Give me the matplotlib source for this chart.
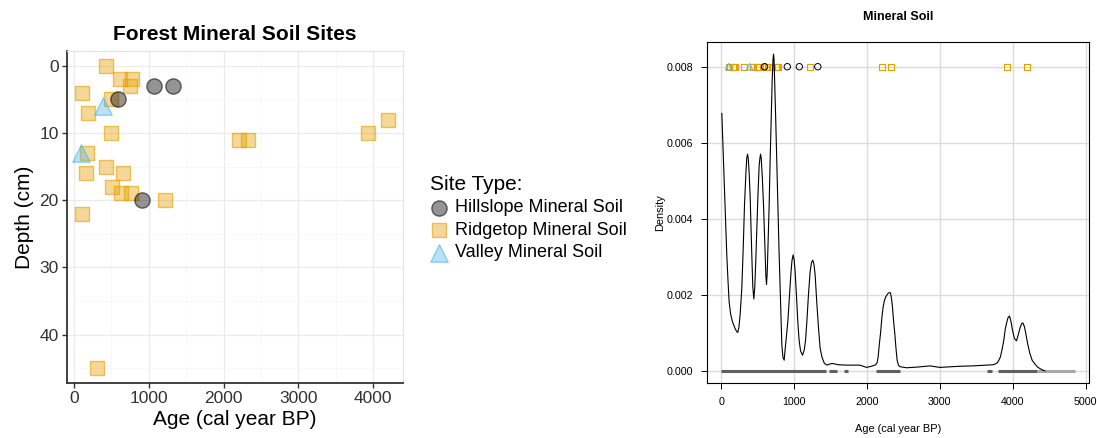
import numpy as np
import matplotlib.pyplot as plt
from matplotlib.ticker import MultipleLocator

plt.rcParams['font.family'] = ['Liberation Sans', 'DejaVu Sans']

# Sample ages (cal year BP) and depths (cm) per site type
hillslope_age = [1073, 1326, 596, 908]
hillslope_depth = [3, 3, 5, 20]
ridgetop_age = [436, 614, 783, 748, 111, 503, 187, 494, 2207, 2328, 3925,
                4197, 178, 436, 169, 659, 516, 636, 761, 1219, 116, 312]
ridgetop_depth = [0, 2, 2, 3, 4, 5, 7, 10, 11, 11, 10,
                  8, 13, 15, 16, 16, 18, 19, 19, 20, 22, 45]
valley_age = [392, 102]
valley_depth = [6, 13]

# Summed density curve
density_age = [10, 28, 46, 62, 78, 94, 110, 132, 156, 190, 215, 229, 245,
               262, 284, 303, 321, 340, 352, 362, 372, 385, 398, 410, 421,
               435, 449, 462, 474, 486, 505, 522, 533, 541, 550, 565, 582,
               603, 614, 623, 633, 645, 659, 672, 686, 700, 712, 719, 726,
               738, 750, 764, 778, 794, 810, 822, 833, 848, 865, 880, 898,
               915, 935, 956, 972, 988, 1002, 1015, 1033, 1052, 1070, 1090,
               1117, 1140, 1158, 1176, 1198, 1221, 1240, 1258, 1274, 1290,
               1312, 1336, 1358, 1382, 1415, 1450, 1509, 1536, 1560, 1605,
               1719, 1902, 1948, 1993, 2062, 2121, 2140, 2154, 2170, 2186,
               2205, 2222, 2240, 2259, 2291, 2310, 2323, 2337, 2350, 2366,
               2382, 2398, 2414, 2432, 2451, 2542, 2700, 2862, 2999, 3274,
               3457, 3731, 3760, 3786, 3810, 3831, 3855, 3877, 3897, 3914,
               3935, 3955, 3975, 3996, 4022, 4051, 4075, 4097, 4120, 4138,
               4158, 4179, 4205, 4234, 4265, 4303, 4340, 4371, 4410, 4440]
density_value = [0.00677, 0.00580, 0.00480, 0.00390, 0.00305, 0.00240,
                 0.00182, 0.00148, 0.00129, 0.00112, 0.00103, 0.00101,
                 0.00115, 0.00150, 0.00217, 0.00320, 0.00436, 0.00520,
                 0.00560, 0.00570, 0.00560, 0.00520, 0.00462, 0.00380,
                 0.00305, 0.00220, 0.00189, 0.00220, 0.00280, 0.00348,
                 0.00460, 0.00540, 0.00560, 0.00570, 0.00560, 0.00510,
                 0.00436, 0.00310, 0.00250, 0.00227, 0.00260, 0.00340,
                 0.00436, 0.00550, 0.00655, 0.00760, 0.00820, 0.00833,
                 0.00820, 0.00740, 0.00655, 0.00550, 0.00436, 0.00320,
                 0.00217, 0.00130, 0.00068, 0.00036, 0.00028, 0.00060,
                 0.00095, 0.00129, 0.00190, 0.00252, 0.00290, 0.00305,
                 0.00292, 0.00261, 0.00200, 0.00129, 0.00080, 0.00052,
                 0.00041, 0.00055, 0.00080, 0.00129, 0.00200, 0.00261,
                 0.00285, 0.00291, 0.00280, 0.00252, 0.00180, 0.00112,
                 0.00060, 0.00037, 0.00020, 0.00015, 0.00019, 0.00019,
                 0.00018, 0.00016, 0.00015, 0.00015, 0.00012, 0.00009,
                 0.00012, 0.00016, 0.00022, 0.00037, 0.00070, 0.00098,
                 0.00140, 0.00168, 0.00185, 0.00195, 0.00204, 0.00206,
                 0.00205, 0.00190, 0.00168, 0.00130, 0.00098, 0.00060,
                 0.00028, 0.00015, 0.00011, 0.00008, 0.00010, 0.00013,
                 0.00009, 0.00012, 0.00013, 0.00016, 0.00018, 0.00021,
                 0.00028, 0.00037, 0.00058, 0.00081, 0.00110, 0.00125,
                 0.00140, 0.00144, 0.00130, 0.00107, 0.00085, 0.00079,
                 0.00095, 0.00111, 0.00124, 0.00126, 0.00117, 0.00098,
                 0.00070, 0.00046, 0.00028, 0.00018, 0.00010, 0.00006,
                 0.00002, 0.00000]

# Rug segments along the age axis
rug_start = [0, 1478, 1688, 2127, 3641, 3800, 4327]
rug_end = [1432, 1588, 1743, 2456, 3710, 4327, 4853]
rug_color = ['#606060'] * 6 + ['#a8a8a8']

point_level = 0.008

ORANGE = '#E69F00'
BLUE = '#56B4E9'


def sites_panel(ax):
    # ggplot-like scatter of depth vs age
    ax.scatter(ridgetop_age, ridgetop_depth, marker='s', s=9.5 ** 2,
               facecolor=(0.902, 0.624, 0.0, 0.4),
               edgecolor=(0.902, 0.624, 0.0, 0.6), linewidth=1.0,
               label='Ridgetop Mineral Soil', zorder=3)
    ax.scatter(hillslope_age, hillslope_depth, marker='o', s=11 ** 2,
               facecolor=(0, 0, 0, 0.42), edgecolor=(0, 0, 0, 0.55),
               linewidth=1.0, label='Hillslope Mineral Soil', zorder=3)
    ax.scatter(valley_age, valley_depth, marker='^', s=12.5 ** 2,
               facecolor=(0.337, 0.706, 0.914, 0.4),
               edgecolor=(0.337, 0.706, 0.914, 0.6), linewidth=1.0,
               label='Valley Mineral Soil', zorder=3)

    ax.set_xlim(-90, 4398)
    ax.set_ylim(47.2, -2.2)
    ax.xaxis.set_major_locator(MultipleLocator(1000))
    ax.xaxis.set_minor_locator(MultipleLocator(500))
    ax.yaxis.set_major_locator(MultipleLocator(10))
    ax.yaxis.set_minor_locator(MultipleLocator(5))
    ax.grid(True, which='major', color='#ebebeb', linewidth=0.9)
    ax.grid(True, which='minor', color='#f5f5f5', linewidth=0.5)
    ax.set_axisbelow(True)

    for side in ['left', 'bottom']:
        ax.spines[side].set_color('#333333')
        ax.spines[side].set_linewidth(1.3)
    for side in ['top', 'right']:
        ax.spines[side].set_color('#e4e4e4')
        ax.spines[side].set_linewidth(0.8)

    ax.tick_params(which='major', length=3.5, width=1.0, color='#333333',
                   labelsize=12.5, labelcolor='#333333', pad=2.5)
    ax.tick_params(which='minor', length=0)

    ax.set_title('Forest Mineral Soil Sites', fontsize=15, fontweight='bold',
                 pad=8)
    ax.set_xlabel('Age (cal year BP)', fontsize=15, labelpad=3)
    ax.set_ylabel('Depth (cm)', fontsize=15, labelpad=4)


def density_panel(ax):
    # Grid first, then rug, points and density curve
    for x in range(0, 6000, 1000):
        ax.axvline(x, color='#dcdcdc', linewidth=1.0, zorder=0)
    for y in np.arange(0, 0.0081, 0.002):
        ax.axhline(y, color='#dcdcdc', linewidth=1.0, zorder=0)

    for x0, x1, c in zip(rug_start, rug_end, rug_color):
        ax.plot([x0, x1], [0, 0], color=c, linewidth=2.2,
                solid_capstyle='butt', zorder=1)

    ax.scatter(ridgetop_age, [point_level] * len(ridgetop_age), marker='s',
               s=4.2 ** 2, facecolor='none', edgecolor=ORANGE,
               linewidth=0.8, zorder=2)
    ax.scatter(hillslope_age, [point_level] * len(hillslope_age), marker='o',
               s=4.6 ** 2, facecolor='none', edgecolor='black',
               linewidth=0.7, zorder=2)
    ax.scatter(valley_age, [point_level] * len(valley_age), marker='^',
               s=4.6 ** 2, facecolor='none', edgecolor=BLUE,
               linewidth=0.7, zorder=2)

    ax.plot(density_age, density_value, color='black', linewidth=0.8,
            zorder=3)

    ax.set_xlim(-193, 5045)
    ax.set_ylim(-0.00032, 0.00865)
    ax.set_xticks(range(0, 6000, 1000))
    ax.set_yticks([0, 0.002, 0.004, 0.006, 0.008])
    ax.set_yticklabels(['0.000', '0.002', '0.004', '0.006', '0.008'])
    for side in ax.spines.values():
        side.set_linewidth(0.8)
    ax.tick_params(length=4.5, width=0.7, labelsize=7.7, pad=5.5)

    ax.set_title('Mineral Soil', fontsize=9, fontweight='bold', pad=16)
    ax.set_xlabel('Age (cal year BP)', fontsize=7.9, labelpad=12)
    ax.set_ylabel('Density', fontsize=7.9, labelpad=1)


fig = plt.figure(figsize=(10.97, 4.38), dpi=100)
ax1 = fig.add_axes([0.0611, 0.1256, 0.3063, 0.758])
ax2 = fig.add_axes([0.6445, 0.1256, 0.3482, 0.7785])

sites_panel(ax1)
density_panel(ax2)

# Legend in the gap between the panels, ordered like the reference
handles, labels = ax1.get_legend_handles_labels()
order = [1, 0, 2]
ax1.legend([handles[i] for i in order], [labels[i] for i in order],
           title='Site Type:', loc='upper left',
           bbox_to_anchor=(430 / 1097, 1 - 175 / 438),
           bbox_transform=fig.transFigure, frameon=False, fontsize=13,
           title_fontsize=15, alignment='left', borderpad=0,
           borderaxespad=0, handlelength=1.0, handletextpad=0.4,
           labelspacing=0.3)

fig.savefig('out.png', dpi=100)
